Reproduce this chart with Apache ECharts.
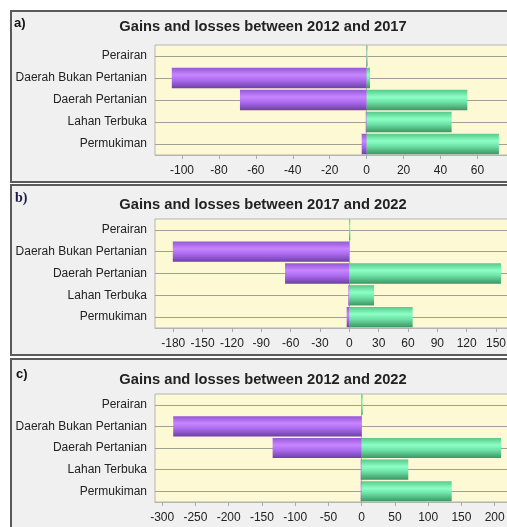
<!DOCTYPE html>
<html>
<head>
<meta charset="utf-8">
<script src="https://cdn.jsdelivr.net/npm/echarts@6/dist/echarts.min.js"></script>
<style>
  html, body { margin:0; padding:0; background:#ffffff; overflow:hidden; width:507px; height:527px; }
  .frame { position:absolute; box-sizing:border-box; background:#f0f0f0; border:2px solid #5a5a5a; border-right:none; }
  #chart { position:absolute; left:0; top:0; width:507px; height:527px; }
</style>
</head>
<body>
<div class="frame" style="left:10px; top:10px; width:497px; height:173px;"></div>
<div class="frame" style="left:10px; top:184px; width:497px; height:172px;"></div>
<div class="frame" style="left:10px; top:358px; width:497px; height:200px;"></div>
<div id="chart"></div>
<script>
const categories = ['Perairan', 'Daerah Bukan Pertanian', 'Daerah Pertanian', 'Lahan Terbuka', 'Permukiman'];

const titles = ['Gains and losses between 2012 and 2017', 'Gains and losses between 2017 and 2022', 'Gains and losses between 2012 and 2022'];
const panelLabels = ['a)', 'b)', 'c)'];

const lossA = [0, -105.5, -68.6, -0.5, -2.7];
const gainA = [0.5, 1.8, 54.5, 46.0, 71.6];

const lossB = [0, -180.5, -65.7, -1, -2.7];
const gainB = [1, 0, 155.1, 25.3, 64.8];

const lossC = [0, -283.4, -133.9, -1.5, -1.5];
const gainC = [1.5, 0, 209.6, 70.1, 135.4];

const ticksA = [-100, -80, -60, -40, -20, 0, 20, 40, 60];
const ticksB = [-180, -150, -120, -90, -60, -30, 0, 30, 60, 90, 120, 150];
const ticksC = [-300, -250, -200, -150, -100, -50, 0, 50, 100, 150, 200];

const losses = [lossA, lossB, lossC];
const gains = [gainA, gainB, gainC];
const ticks = [ticksA, ticksB, ticksC];

// layout
const gridTops = [45, 219, 394];
const gridHeights = [110, 109, 108];
const axisRanges = [[-114.6, 81.4], [-198.7, 171.5], [-310.8, 233.6]];
const titleY = [27, 205, 380];
const labelPos = [[14, 23], [15, 198], [16, 374]];

const FONT = "'Liberation Sans', Arial, sans-serif";

const purple = {
  type: 'linear', x: 0, y: 0, x2: 0, y2: 1,
  colorStops: [
    { offset: 0, color: '#9457d6' },
    { offset: 0.35, color: '#c786ff' },
    { offset: 0.6, color: '#ad6cf0' },
    { offset: 1, color: '#6e3fa6' }
  ]
};
const green = {
  type: 'linear', x: 0, y: 0, x2: 0, y2: 1,
  colorStops: [
    { offset: 0, color: '#58c88a' },
    { offset: 0.35, color: '#8cffc6' },
    { offset: 0.6, color: '#6ee3a6' },
    { offset: 1, color: '#3b9666' }
  ]
};

const grid = [], xAxis = [], yAxis = [], series = [], graphic = [];

for (let i = 0; i < 3; i++) {
  grid.push({
    left: 155, width: 362, top: gridTops[i], height: gridHeights[i],
    outerBoundsMode: 'none', containLabel: false,
    show: true, backgroundColor: '#fdf9d4', borderColor: '#b4b4b4', borderWidth: 1
  });
  xAxis.push({
    type: 'value', gridIndex: i,
    min: axisRanges[i][0], max: axisRanges[i][1],
    axisLine: { show: true, lineStyle: { color: '#b4b4b4' } },
    axisTick: { show: true, length: 4, customValues: ticks[i], lineStyle: { color: '#aaaaaa' } },
    axisLabel: { customValues: ticks[i], color: '#222', fontSize: 12, fontFamily: FONT, margin: 10 },
    splitLine: { show: false }
  });
  yAxis.push({
    type: 'category', gridIndex: i, data: categories, inverse: true,
    axisLine: { show: true, lineStyle: { color: '#b4b4b4' } },
    axisTick: { show: true, alignWithLabel: true, length: 5, lineStyle: { color: '#888' } },
    axisLabel: { color: '#222', fontSize: 12, fontFamily: FONT, margin: 8 },
    splitLine: { show: false }
  });
  series.push({
    type: 'bar', xAxisIndex: i, yAxisIndex: i, data: losses[i],
    barWidth: '93%', barGap: '-100%',
    itemStyle: { color: purple },
    markLine: {
      silent: true, symbol: 'none', z: 1, animation: false,
      label: { show: false },
      lineStyle: { color: '#a0a098', width: 1, type: 'solid' },
      data: categories.map(c => ({ yAxis: c }))
    }
  });
  series.push({
    type: 'bar', xAxisIndex: i, yAxisIndex: i, data: gains[i],
    barWidth: '93%', barGap: '-100%',
    itemStyle: { color: green }
  });
  graphic.push({
    type: 'text', x: 263, y: titleY[i],
    style: { text: titles[i], font: 'bold 14.7px ' + FONT, fill: '#222', align: 'center', verticalAlign: 'middle' }
  });
  graphic.push({
    type: 'text', x: labelPos[i][0], y: labelPos[i][1],
    style: {
      text: panelLabels[i],
      font: i === 1 ? "bold 14px 'Liberation Serif', 'DejaVu Serif', serif" : 'bold 13px ' + FONT,
      fill: i === 1 ? '#1c1c48' : '#111', align: 'left', verticalAlign: 'middle'
    }
  });
}

const chart = echarts.init(document.getElementById('chart'), null, { renderer: 'canvas' });
chart.setOption({
  backgroundColor: 'transparent',
  animation: false,
  grid, xAxis, yAxis, series, graphic
});
</script>
</body>
</html>
